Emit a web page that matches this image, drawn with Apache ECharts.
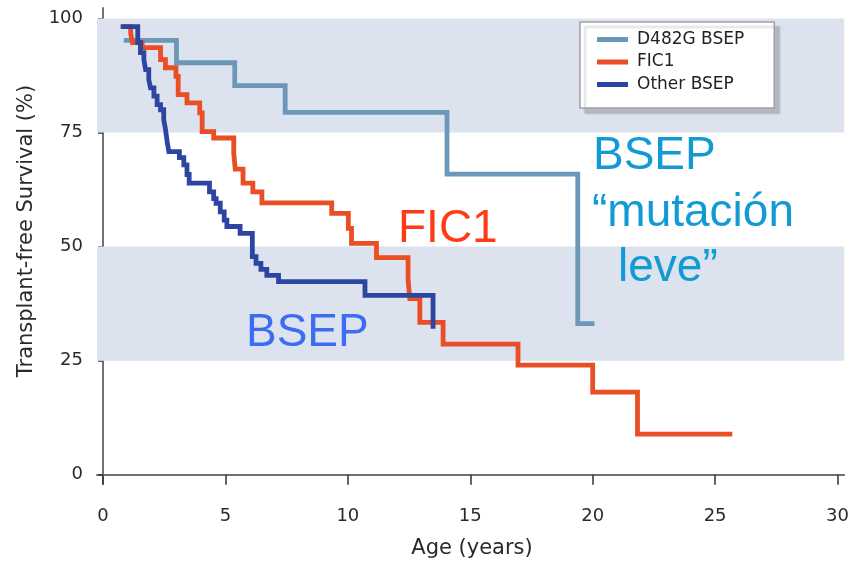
<!DOCTYPE html>
<html>
<head>
<meta charset="utf-8">
<script src="https://cdn.jsdelivr.net/npm/echarts@6/dist/echarts.min.js"></script>
<style>
html,body{margin:0;padding:0;background:#fff;}
#chart{width:852px;height:563px;}
</style>
</head>
<body>
<div id="chart"></div>
<script>
// ---- data ----
const xTicks = [0, 5, 10, 15, 20, 25, 30];
const yTicks = [0, 25, 50, 75, 100];
const bandRanges = [[75, 100], [25, 50]];

const seriesNames = ['D482G BSEP', 'FIC1', 'Other BSEP'];

const d482gAge  = [0.85, 3.0, 5.38, 7.44, 14.05, 19.39, 20.07];
const d482gSurv = [95.2, 90.3, 85.3, 79.4, 65.9, 33.1, 33.1];

const fic1Age  = [0.75, 1.13, 1.2, 1.6, 2.35, 2.55, 2.98, 3.07, 3.43, 3.95, 4.05, 4.52, 5.34, 5.40, 5.72, 6.12, 6.49, 9.34, 10.02, 10.15, 11.17, 12.46, 12.53, 12.94, 13.89, 16.95, 20.0, 21.83, 25.7];
const fic1Surv = [98.2, 96.8, 94.7, 93.6, 91.0, 89.2, 87.3, 83.3, 81.5, 79.3, 75.2, 73.8, 70.5, 67.0, 63.9, 62.0, 59.6, 57.3, 54.0, 50.7, 47.6, 42.8, 38.6, 33.4, 28.6, 24.0, 18.1, 8.9, 8.9];

const otherAge  = [0.72, 1.42, 1.53, 1.67, 1.74, 1.87, 1.94, 2.08, 2.21, 2.35, 2.48, 2.55, 2.62, 2.69, 3.12, 3.30, 3.43, 3.52, 4.35, 4.52, 4.62, 4.79, 4.95, 5.06, 5.60, 6.10, 6.25, 6.45, 6.69, 7.17, 10.70, 13.48];
const otherSurv = [98.2, 94.7, 92.5, 91.0, 88.8, 86.6, 84.8, 83.0, 81.1, 80.0, 77.8, 75.8, 73.0, 70.8, 69.5, 67.9, 65.8, 63.9, 62.0, 60.5, 59.5, 57.6, 55.8, 54.4, 52.9, 47.8, 46.3, 45.0, 43.7, 42.3, 39.3, 32.0];

const annotations = [
  {text: 'FIC1', color: '#ff3a14'},
  {text: 'BSEP', color: '#3b6cf2'},
  {text: 'BSEP', color: '#129ad4'},
  {text: '\u201Cmutación', color: '#129ad4'},
  {text: 'leve\u201D', color: '#129ad4'}
];

// ---- build ----
const zip = (a, b) => a.map((v, i) => [v, b[i]]);
const colors = ['#6b97b9', '#e94e24', '#2c45a0'];
const AX = '"DejaVu Sans", sans-serif';
const BIG = '"Liberation Sans", Arial, sans-serif';

const chart = echarts.init(document.getElementById('chart'));

function lineSeries(name, data, color, extra) {
  return Object.assign({
    name: name,
    type: 'line',
    step: 'end',
    data: data,
    showSymbol: false,
    symbol: 'none',
    lineStyle: {color: color, width: 4.8, join: 'miter'},
    itemStyle: {color: color},
    animation: false,
    z: 3
  }, extra || {});
}

const annoPos = [
  {x: 398, y: 229, size: 46},
  {x: 246, y: 333, size: 46},
  {x: 593, y: 156, size: 46},
  {x: 592, y: 213, size: 46},
  {x: 618, y: 268, size: 46}
];

const option = {
  backgroundColor: '#ffffff',
  animation: false,
  color: colors,
  grid: {left: 97, right: 7, top: 8, bottom: 79, containLabel: false},
  legend: {
    orient: 'vertical',
    left: 580, top: 22,
    data: seriesNames,
    icon: 'rect',
    itemWidth: 31, itemHeight: 5,
    itemGap: 5.5,
    padding: [9, 30, 15, 17],
    backgroundColor: '#ffffff',
    borderColor: '#a0a0a0',
    borderWidth: 1.5,
    borderRadius: 0,
    shadowColor: 'rgba(0,0,0,0.18)',
    shadowBlur: 2,
    shadowOffsetX: 5,
    shadowOffsetY: 5,
    textStyle: {fontFamily: AX, fontSize: 17, color: '#222', lineHeight: 17, padding: [0, 0, 0, 4]},
    selectedMode: false
  },
  xAxis: {
    type: 'value',
    min: -0.245, max: 30.27,
    axisLine: {show: true, lineStyle: {color: '#707070', width: 2}},
    axisTick: {show: true, customValues: xTicks, length: 10, inside: false, lineStyle: {color: '#333', width: 1.5}},
    axisLabel: {customValues: xTicks, margin: 23, fontFamily: AX, fontSize: 18, color: '#2a2a2a'},
    splitLine: {show: false}
  },
  yAxis: {
    type: 'value',
    min: -2.04, max: 102.3,
    axisLine: {show: true, lineStyle: {color: '#707070', width: 2}},
    axisTick: {show: true, customValues: yTicks, length: 5, lineStyle: {color: '#333', width: 1.5}},
    axisLabel: {customValues: yTicks, margin: 14, fontFamily: AX, fontSize: 18, color: '#2a2a2a'},
    splitLine: {show: false}
  },
  series: [
    lineSeries(seriesNames[0], zip(d482gAge, d482gSurv), colors[0], {
      markArea: {
        silent: true,
        itemStyle: {color: '#dce3ee'},
        data: bandRanges.map(r => [{yAxis: r[0]}, {yAxis: r[1]}]),
        z: 1
      }
    }),
    lineSeries(seriesNames[1], zip(fic1Age, fic1Surv), colors[1]),
    lineSeries(seriesNames[2], zip(otherAge, otherSurv), colors[2])
  ],
  graphic: [
    {
      type: 'text', x: 27, y: 231, rotation: Math.PI / 2,
      style: {text: 'Transplant-free Survival (%)', font: '21px ' + AX, fill: '#2a2a2a', align: 'center', verticalAlign: 'middle'}
    },
    {
      type: 'text', x: 472, y: 549,
      style: {text: 'Age (years)', font: '21px ' + AX, fill: '#2a2a2a', align: 'center', verticalAlign: 'middle'}
    }
  ].concat(annotations.map((a, i) => ({
    type: 'text', x: annoPos[i].x, y: annoPos[i].y, z: 10,
    style: {text: a.text, font: annoPos[i].size + 'px ' + BIG, fill: a.color, align: 'left', verticalAlign: 'middle'}
  })))
};

chart.setOption(option);
</script>
</body>
</html>
